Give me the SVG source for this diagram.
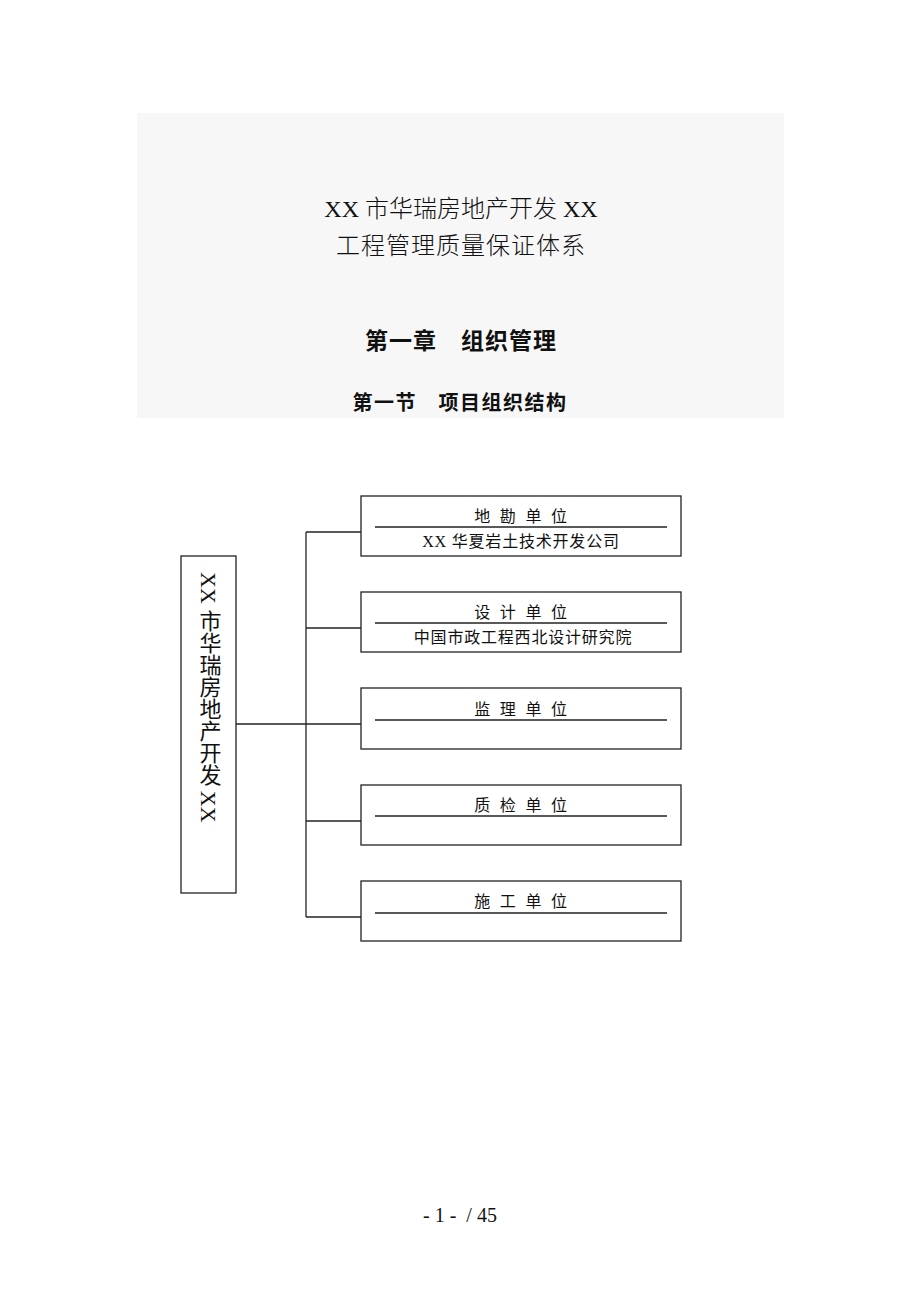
<svg xmlns="http://www.w3.org/2000/svg" width="920" height="1302" viewBox="0 0 920 1302">
<style>
.cjk{font-family:"Liberation Serif","Noto Sans CJK SC",serif;fill:#111}
.ttl{font-size:24px;font-weight:300}
.hd{font-weight:700}
.box{fill:#fff;stroke:#222;stroke-width:1.3}
.ln{stroke:#222;stroke-width:1.3;fill:none}
.lab{font-size:16px;letter-spacing:2.8px;text-anchor:middle}
.sub{font-size:16px;letter-spacing:0.8px;text-anchor:middle}
</style>
<rect x="0" y="0" width="920" height="1302" fill="#fff"/>
<g id="header">
<rect x="137" y="113" width="647" height="305" fill="#f7f7f7"/>
<text class="cjk ttl" x="461" y="217" text-anchor="middle">XX 市华瑞房地产开发 XX</text>
<text class="cjk ttl" x="461" y="254" text-anchor="middle" letter-spacing="1">工程管理质量保证体系</text>
<text class="cjk hd" x="461" y="349" font-size="23" letter-spacing="1" text-anchor="middle">第一章　组织管理</text>
<text class="cjk hd" x="460" y="410" font-size="20" letter-spacing="1.5" text-anchor="middle">第一节　项目组织结构</text>
</g>
<g id="connectors">
<line class="ln" x1="236" y1="724" x2="306" y2="724"/>
<line class="ln" x1="306" y1="532" x2="306" y2="917"/>
<line class="ln" x1="306" y1="532" x2="361" y2="532"/>
<line class="ln" x1="306" y1="628" x2="361" y2="628"/>
<line class="ln" x1="306" y1="724" x2="361" y2="724"/>
<line class="ln" x1="306" y1="821" x2="361" y2="821"/>
<line class="ln" x1="306" y1="917" x2="361" y2="917"/>
</g>
<g id="owner">
<rect class="box" x="181" y="556" width="55" height="337"/>
<text class="cjk" x="208" y="572" font-size="22" style="writing-mode:vertical-rl">XX 市华瑞房地产开发 XX</text>
</g>
<g id="survey">
<rect class="box" x="361" y="496" width="320" height="60"/>
<text class="cjk lab" x="522" y="522">地 勘 单 位</text>
<line class="ln" x1="375" y1="527" x2="667" y2="527"/>
<text class="cjk sub" x="521" y="547">XX 华夏岩土技术开发公司</text>
</g>
<g id="design">
<rect class="box" x="361" y="592" width="320" height="60"/>
<text class="cjk lab" x="522" y="618">设 计 单 位</text>
<line class="ln" x1="375" y1="623" x2="667" y2="623"/>
<text class="cjk sub" x="523" y="643">中国市政工程西北设计研究院</text>
</g>
<g id="supervision">
<rect class="box" x="361" y="688" width="320" height="61"/>
<text class="cjk lab" x="522" y="715">监 理 单 位</text>
<line class="ln" x1="375" y1="720" x2="667" y2="720"/>
</g>
<g id="quality">
<rect class="box" x="361" y="785" width="320" height="60"/>
<text class="cjk lab" x="522" y="811">质 检 单 位</text>
<line class="ln" x1="375" y1="816" x2="667" y2="816"/>
</g>
<g id="construction">
<rect class="box" x="361" y="881" width="320" height="60"/>
<text class="cjk lab" x="522" y="907">施 工 单 位</text>
<line class="ln" x1="375" y1="913" x2="667" y2="913"/>
</g>
<g id="footer">
<text x="460" y="1222" font-family="Liberation Serif, serif" font-size="20" text-anchor="middle" fill="#111" style="white-space:pre">- 1 -  / 45</text>
</g>
</svg>
